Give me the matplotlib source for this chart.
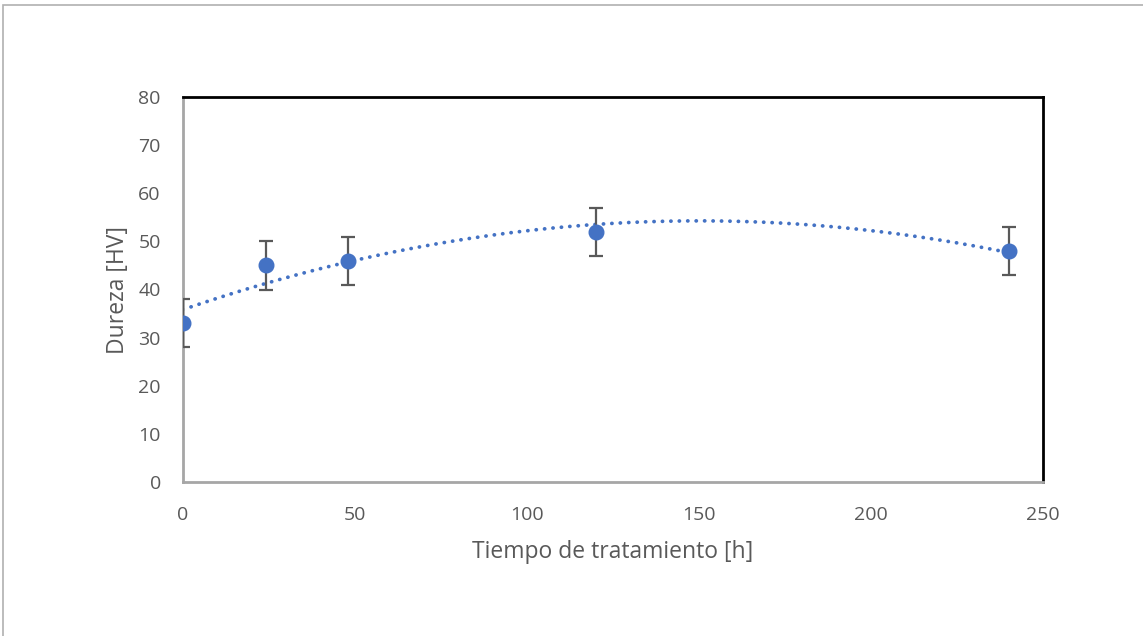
import numpy as np
import matplotlib.pyplot as plt
from matplotlib.patches import Rectangle

# data
tiempo = [0, 24, 48, 120, 240]
dureza = [33, 45, 46, 52, 48]
error = [5, 5, 5, 5, 5]

plt.rcParams['font.family'] = ['Open Sans', 'DejaVu Sans']

fig = plt.figure(figsize=(11.43, 6.36), dpi=100)
ax = fig.add_axes([183 / 1143, 1 - 482 / 636, (1043 - 183) / 1143, (482 - 97) / 636])

# outer chart border (Excel style)
fig.patches.append(Rectangle((3 / 1143, -0.1), 1.2, 1 - 5 / 636 + 0.1,
                             transform=fig.transFigure, fill=False,
                             edgecolor="#b0b0b0", linewidth=1.2))

# quadratic trendline fitted to the data
coef = np.polyfit(tiempo, dureza, 2)
xt = np.linspace(min(tiempo), max(tiempo), 300)
ax.plot(xt, np.polyval(coef, xt), linestyle=(0, (0.05, 2.2)), color="#4472C4",
        linewidth=2.7, dash_capstyle="round", zorder=2)

ax.errorbar(tiempo, dureza, yerr=error, fmt="o", color="#4472C4",
            markersize=10.5, ecolor="#595959", elinewidth=1.6, capsize=5,
            capthick=1.6, zorder=3)

ax.set_xlim(0, 250)
ax.set_ylim(0, 80)
ax.set_xticks(range(0, 251, 50))
ax.set_yticks(range(0, 81, 10))
ax.tick_params(length=0, labelsize=14, labelcolor="#595959")
ax.tick_params(axis="x", pad=17)
ax.tick_params(axis="y", pad=16)

for side in ("top", "right"):
    ax.spines[side].set_color("black")
    ax.spines[side].set_linewidth(2)
for side in ("left", "bottom"):
    ax.spines[side].set_color("#a6a6a6")
    ax.spines[side].set_linewidth(2)

ax.set_xlabel("Tiempo de tratamiento [h]", fontsize=16.5, color="#595959", labelpad=12)
ax.set_ylabel("Dureza [HV]", fontsize=16.5, color="#595959", labelpad=6)

fig.savefig("out.png", dpi=100)
